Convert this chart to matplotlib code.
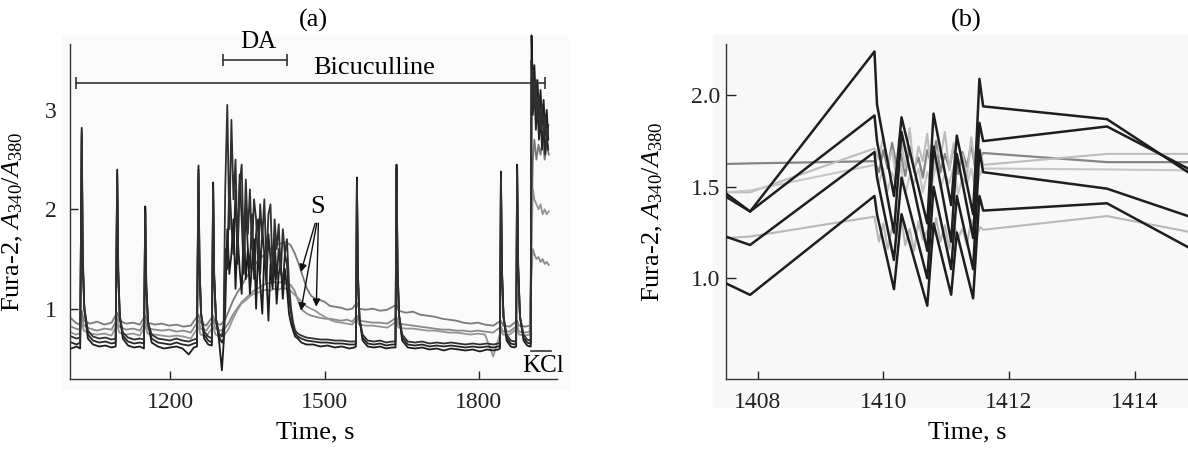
import matplotlib
matplotlib.use("Agg")
from matplotlib import pyplot as plt
from matplotlib.patches import Rectangle

# ---------------- panel (a): whole recording ----------------
# shared time grid of the dark (black) traces, s
t_black = [
    1008, 1018, 1025, 1028, 1030, 1033, 1040, 1050, 1062, 1074,
    1086, 1094, 1097, 1099, 1102, 1108, 1118, 1130, 1141, 1149,
    1151.5, 1153.5, 1157, 1164, 1176, 1188, 1200, 1212, 1224, 1236,
    1246, 1252, 1255, 1257, 1260, 1266, 1274, 1281, 1283.5, 1285.5,
    1289, 1295, 1300.5, 1304,
    1307, 1311, 1315, 1319, 1323, 1327, 1331, 1335, 1339, 1343,
    1347, 1351, 1355, 1359, 1363, 1367, 1371, 1375, 1379, 1383,
    1387, 1391, 1395, 1399, 1403, 1407, 1411, 1415, 1419, 1423,
    1427, 1431, 1435, 1439, 1443, 1448, 1455, 1465,
    1478, 1492, 1506, 1520, 1534, 1548, 1558, 1561, 1563, 1565,
    1568, 1574, 1584, 1596, 1608, 1620, 1631, 1638, 1640, 1642,
    1645, 1651, 1662, 1676, 1690, 1704, 1718, 1732, 1746, 1760,
    1774, 1788, 1802, 1816, 1828, 1838, 1841, 1843, 1845, 1848,
    1854, 1862, 1869, 1872.5, 1874.5, 1876.5, 1880, 1887, 1894, 1899,
    1901, 1902.5, 1905, 1908, 1911, 1914, 1917, 1920, 1923, 1926,
    1929, 1932, 1935,
]
b1 = [
    0.60, 0.62, 0.60, 2.82, 1.55, 1.00, 0.70, 0.64, 0.62, 0.63,
    0.61, 0.62, 2.40, 1.40, 0.92, 0.70, 0.63, 0.61, 0.62, 0.60,
    2.03, 1.25, 0.85, 0.66, 0.62, 0.60, 0.61, 0.62, 0.60, 0.54,
    0.61, 0.62, 2.44, 1.45, 0.95, 0.70, 0.64, 0.63, 2.27, 1.35,
    0.90, 0.68, 0.38, 0.66,
    1.00, 1.80, 1.35, 1.55, 1.90, 1.20, 1.75, 1.40, 1.15, 1.85,
    1.30, 1.60, 1.15, 1.45, 1.70, 1.00, 1.60, 1.25, 0.95, 1.55,
    1.35, 0.88, 1.45, 1.20, 1.50, 1.05, 1.35, 1.45, 1.10, 1.40,
    1.20, 0.95, 0.85, 0.78, 0.72, 0.70, 0.66, 0.64,
    0.64, 0.62, 0.63, 0.61, 0.62, 0.60, 0.61, 0.62, 2.32, 1.35,
    0.90, 0.68, 0.62, 0.61, 0.62, 0.60, 0.61, 0.61, 2.45, 1.42,
    0.93, 0.68, 0.61, 0.60, 0.61, 0.59, 0.60, 0.58, 0.60, 0.59,
    0.58, 0.59, 0.57, 0.59, 0.58, 0.59, 0.60, 2.38, 1.40, 0.92,
    0.68, 0.62, 0.61, 0.62, 2.45, 1.45, 0.92, 0.68, 0.63, 0.62,
    0.62, 3.75, 3.25, 3.45, 3.05, 3.30, 2.95, 3.20, 2.85, 3.10,
    2.75, 3.00, 2.70,
]
b2 = [
    0.66, 0.64, 0.66, 2.78, 1.50, 1.02, 0.74, 0.68, 0.66, 0.67,
    0.65, 0.66, 2.36, 1.38, 0.93, 0.73, 0.67, 0.65, 0.66, 0.65,
    1.99, 1.22, 0.86, 0.70, 0.66, 0.65, 0.64, 0.66, 0.64, 0.63,
    0.65, 0.66, 2.40, 1.42, 0.95, 0.74, 0.68, 0.66, 2.23, 1.32,
    0.90, 0.72, 0.66, 0.70,
    1.60, 1.40, 2.30, 1.85, 1.55, 2.20, 1.45, 2.35, 1.90, 1.35,
    2.05, 1.60, 1.40, 1.95, 1.30, 1.75, 1.90, 1.35, 1.80, 1.55,
    1.25, 1.75, 1.50, 1.25, 1.70, 1.30, 1.60, 1.40, 1.25, 1.55,
    1.45, 1.10, 0.95, 0.82, 0.75, 0.72, 0.70, 0.68,
    0.67, 0.66, 0.66, 0.65, 0.65, 0.64, 0.64, 0.65, 2.28, 1.33,
    0.90, 0.71, 0.65, 0.64, 0.65, 0.63, 0.64, 0.64, 2.41, 1.40,
    0.93, 0.71, 0.64, 0.63, 0.64, 0.62, 0.63, 0.62, 0.63, 0.62,
    0.61, 0.62, 0.61, 0.62, 0.61, 0.62, 0.63, 2.34, 1.38, 0.92,
    0.71, 0.65, 0.64, 0.65, 2.41, 1.42, 0.92, 0.71, 0.66, 0.65,
    0.66, 3.50, 2.95, 3.20, 2.80, 3.05, 2.70, 2.95, 2.60, 2.85,
    2.55, 2.75, 2.60,
]
b3 = [
    0.72, 0.70, 0.71, 2.74, 1.45, 1.00, 0.78, 0.72, 0.70, 0.71,
    0.69, 0.70, 2.32, 1.30, 0.92, 0.76, 0.71, 0.69, 0.70, 0.69,
    1.95, 1.18, 0.86, 0.74, 0.70, 0.69, 0.68, 0.70, 0.68, 0.67,
    0.69, 0.70, 2.36, 1.40, 0.95, 0.77, 0.72, 0.70, 2.19, 1.30,
    0.90, 0.75, 0.72, 0.85,
    2.20, 3.05, 1.80, 2.90, 2.10, 2.50, 1.60, 2.25, 2.45, 1.55,
    2.30, 1.75, 2.20, 1.60, 2.10, 1.90, 1.45, 2.05, 1.70, 2.10,
    1.45, 1.95, 2.05, 1.35, 1.90, 1.60, 1.85, 1.35, 1.80, 1.55,
    1.70, 1.25, 1.00, 0.86, 0.78, 0.75, 0.73, 0.71,
    0.70, 0.69, 0.69, 0.68, 0.68, 0.67, 0.67, 0.68, 2.24, 1.30,
    0.90, 0.74, 0.68, 0.67, 0.68, 0.66, 0.67, 0.67, 2.37, 1.38,
    0.93, 0.74, 0.67, 0.66, 0.67, 0.65, 0.66, 0.65, 0.66, 0.65,
    0.64, 0.65, 0.64, 0.65, 0.64, 0.65, 0.66, 2.30, 1.35, 0.92,
    0.74, 0.68, 0.67, 0.68, 2.37, 1.40, 0.92, 0.74, 0.69, 0.68,
    0.70, 3.30, 3.40, 3.05, 3.30, 2.90, 3.15, 2.80, 3.05, 2.75,
    2.95, 2.65, 2.85,
]

# shared time grid of the grey "S" traces, s
t_grey = [
    1008, 1016, 1024, 1028, 1032, 1044, 1058, 1072, 1086, 1097,
    1101, 1114, 1128, 1141, 1151.5, 1156, 1170, 1184, 1198, 1212,
    1226, 1240, 1255, 1259, 1270, 1283.5, 1288, 1298, 1306, 1314,
    1322, 1330, 1338, 1346, 1354, 1362, 1370, 1378, 1386, 1394,
    1402, 1410, 1418, 1426, 1434, 1442, 1450, 1458, 1466, 1474,
    1482, 1490, 1500, 1510, 1520, 1532, 1544, 1554, 1563, 1567,
    1580, 1594, 1608, 1622, 1640, 1644, 1658, 1672, 1686, 1700,
    1714, 1728, 1742, 1756, 1770, 1784, 1798, 1812, 1828, 1843,
    1847, 1860, 1874.5, 1878, 1890, 1899, 1902, 1905, 1908, 1912,
    1916, 1920, 1924, 1928, 1932, 1936,
]
s1 = [
    0.90, 0.86, 0.84, 0.98, 0.88, 0.85, 0.87, 0.84, 0.86, 0.96,
    0.88, 0.85, 0.86, 0.84, 0.93, 0.86, 0.84, 0.85, 0.83, 0.84,
    0.82, 0.83, 0.94, 0.86, 0.83, 0.93, 0.85, 0.84, 0.88, 0.98,
    1.08, 1.16, 1.22, 1.30, 1.36, 1.42, 1.48, 1.52, 1.56, 1.60,
    1.63, 1.65, 1.66, 1.67, 1.64, 1.56, 1.45, 1.32, 1.20, 1.13,
    1.10, 1.09, 1.07, 1.03, 1.02, 1.01, 0.99, 1.00, 1.06, 1.00,
    0.99, 1.00, 0.98, 0.99, 1.04, 0.98, 0.96, 0.97, 0.94, 0.93,
    0.92, 0.90, 0.89, 0.88, 0.86, 0.85, 0.86, 0.84, 0.83, 0.88,
    0.83, 0.82, 0.88, 0.83, 0.82, 0.83, 1.60, 2.50, 2.70, 2.50,
    2.65, 2.55, 2.70, 2.50, 2.65, 2.55,
]
s2 = [
    0.82, 0.80, 0.79, 0.92, 0.83, 0.80, 0.78, 0.80, 0.79, 0.90,
    0.82, 0.79, 0.80, 0.78, 0.88, 0.80, 0.79, 0.78, 0.79, 0.77,
    0.78, 0.76, 0.88, 0.80, 0.78, 0.88, 0.80, 0.78, 0.80, 0.86,
    0.94, 1.00, 1.06, 1.10, 1.14, 1.18, 1.20, 1.23, 1.25, 1.26,
    1.27, 1.26, 1.27, 1.25, 1.24, 1.18, 1.06, 0.98, 0.95, 0.93,
    0.92, 0.91, 0.90, 0.90, 0.89, 0.88, 0.89, 0.87, 0.93, 0.88,
    0.87, 0.86, 0.86, 0.85, 0.91, 0.85, 0.84, 0.83, 0.82, 0.81,
    0.80, 0.79, 0.79, 0.78, 0.78, 0.77, 0.78, 0.77, 0.76, 0.82,
    0.77, 0.77, 0.83, 0.77, 0.76, 0.77, 1.30, 1.60, 1.55, 1.50,
    1.52, 1.47, 1.50, 1.45, 1.47, 1.44,
]
s3 = [
    0.76, 0.74, 0.75, 0.86, 0.78, 0.75, 0.74, 0.75, 0.73, 0.84,
    0.76, 0.74, 0.75, 0.73, 0.83, 0.75, 0.74, 0.73, 0.72, 0.73,
    0.72, 0.70, 0.82, 0.74, 0.72, 0.82, 0.74, 0.72, 0.74, 0.80,
    0.90, 0.98, 1.05, 1.08, 1.12, 1.15, 1.16, 1.18, 1.19, 1.18,
    1.20, 1.19, 1.21, 1.20, 1.18, 1.14, 1.10, 1.06, 1.02, 1.00,
    0.98, 0.95, 0.92, 0.89, 0.87, 0.86, 0.85, 0.84, 0.90, 0.84,
    0.83, 0.83, 0.82, 0.81, 0.87, 0.81, 0.80, 0.80, 0.79, 0.78,
    0.78, 0.77, 0.76, 0.76, 0.75, 0.74, 0.75, 0.74, 0.52, 0.78,
    0.74, 0.74, 0.80, 0.74, 0.73, 0.74, 1.50, 2.20, 2.10, 2.05,
    2.00, 2.05, 1.95, 2.00, 1.95, 1.98,
]

# application bars (start, end, level) and labels
bic_bar = (1016.5, 1929, 3.27)
da_bar = (1302, 1427.5, 3.50)
kcl_bar = (1901, 1940, 0.577)
s_arrow_heads = [(1454, 1.37), (1454, 0.98), (1484, 1.02)]
s_arrow_tails = [(1482, 1.86), (1485, 1.86), (1488, 1.86)]

# ---------------- panel (b): zoom around 1410 s ----------------
t_zoom_black = [1407.49, 1407.88, 1409.86, 1409.90, 1410.17, 1410.29, 1410.70, 1410.80,
                1411.08, 1411.17, 1411.43, 1411.53, 1411.59, 1413.56, 1414.85]
z1 = [1.447, 1.365, 2.24, 1.95, 1.45, 1.88, 1.30, 1.90, 1.40, 1.78, 1.35, 2.09, 1.94, 1.87, 1.58]
z2 = [1.465, 1.365, 1.89, 1.75, 1.25, 1.80, 1.15, 1.72, 1.20, 1.68, 1.22, 1.85, 1.75, 1.83, 1.60]
z3 = [1.228, 1.182, 1.69, 1.55, 1.10, 1.55, 1.00, 1.50, 1.05, 1.45, 1.05, 1.70, 1.58, 1.49, 1.34]
z4 = [0.973, 0.909, 1.45, 1.35, 0.94, 1.35, 0.85, 1.30, 0.91, 1.25, 0.89, 1.45, 1.37, 1.41, 1.17]

t_zoom_grey = [1407.49, 1407.88, 1409.86,
               1409.93, 1410.00, 1410.07, 1410.14, 1410.21, 1410.28, 1410.35, 1410.42,
               1410.49, 1410.56, 1410.63, 1410.70, 1410.77, 1410.84, 1410.91, 1410.98,
               1411.05, 1411.12, 1411.19, 1411.26, 1411.33, 1411.40, 1411.47, 1411.54,
               1411.59, 1413.56, 1414.85]
g1 = [1.625, 1.628, 1.64,
      1.58, 1.70, 1.60, 1.74, 1.62, 1.68, 1.56, 1.72, 1.60, 1.66, 1.55, 1.70,
      1.62, 1.75, 1.58, 1.68, 1.60, 1.72, 1.57, 1.69, 1.61, 1.73, 1.59, 1.66,
      1.685, 1.635, 1.635]
g2 = [1.47, 1.47, 1.71,
      1.65, 1.78, 1.62, 1.70, 1.55, 1.76, 1.60, 1.82, 1.58, 1.72, 1.64, 1.79,
      1.56, 1.70, 1.66, 1.80, 1.59, 1.74, 1.62, 1.68, 1.55, 1.77, 1.60, 1.71,
      1.62, 1.68, 1.68]
g3 = [1.47, 1.48, 1.62,
      1.52, 1.60, 1.48, 1.58, 1.50, 1.62, 1.46, 1.56, 1.52, 1.60, 1.47, 1.58,
      1.50, 1.63, 1.49, 1.57, 1.52, 1.61, 1.46, 1.55, 1.51, 1.60, 1.48, 1.57,
      1.60, 1.595, 1.59]
g4 = [1.22, 1.228, 1.337,
      1.20, 1.30, 1.16, 1.28, 1.22, 1.34, 1.18, 1.27, 1.15, 1.31, 1.21, 1.26,
      1.17, 1.33, 1.20, 1.29, 1.16, 1.30, 1.22, 1.27, 1.18, 1.32, 1.21, 1.28,
      1.265, 1.34, 1.255]

plt.rcParams.update({
    "font.family": ["Liberation Serif", "DejaVu Serif"],
    "mathtext.fontset": "custom",
    "mathtext.rm": "Liberation Serif",
    "mathtext.it": "Liberation Serif:italic",
    "axes.linewidth": 1.0,
    "axes.edgecolor": "#333333",
})

TICK_FS = 17
LABEL_FS = 19
W, H = 1188, 449

fig = plt.figure(figsize=(W / 100, H / 100), dpi=100)

# faint scan-like background areas
fig.add_artist(Rectangle((62 / W, 1 - 388 / H), (568 - 62) / W, (388 - 36) / H,
                         transform=fig.transFigure, color="#fafafa", zorder=0))
fig.add_artist(Rectangle((713 / W, 1 - 407 / H), (W - 713) / W, (407 - 35) / H,
                         transform=fig.transFigure, color="#f8f8f8", zorder=0))

ax1 = fig.add_axes([70.4 / W, 1 - 379 / H, (557 - 70.4) / W, (379 - 44) / H])
ax2 = fig.add_axes([725.6 / W, 1 - 379 / H, (W - 725.6) / W, (379 - 44) / H])

for ax in (ax1, ax2):
    ax.patch.set_visible(False)
    ax.spines["top"].set_visible(False)
    ax.spines["right"].set_visible(False)
    ax.tick_params(direction="in", length=6, width=1.0, labelsize=TICK_FS, colors="#222222")
    ax.tick_params(axis="x", pad=9)

# ---- panel (a)
grey_cols = ["#7a7a7a", "#8a8a8a", "#959595"]
for vals, c in zip([s1, s2, s3], grey_cols):
    ax1.plot(t_grey, vals, color=c, lw=1.3, zorder=2, clip_on=False)
for vals, c in zip([b1, b2, b3], ["#1c1c1c", "#262626", "#303030"]):
    ax1.plot(t_black, vals, color=c, lw=1.3, zorder=3, clip_on=False)

ax1.set_xlim(1006, 1952)
ax1.set_ylim(0.293, 3.663)
ax1.set_xticks([1200, 1500, 1800])
ax1.set_yticks([1, 2, 3])
ax1.tick_params(axis="y", pad=10)
ax1.yaxis.get_major_ticks()[2].tick1line.set_visible(False)

bar_kw = dict(color="#333333", lw=1.2, marker="|", markersize=9, markeredgewidth=1.2,
              clip_on=False, zorder=4)
ax1.plot(bic_bar[:2], [bic_bar[2]] * 2, **bar_kw)
ax1.plot(da_bar[:2], [da_bar[2]] * 2, **bar_kw)
ax1.plot(kcl_bar[:2], [kcl_bar[2]] * 2, color="#333333", lw=1.2, clip_on=False, zorder=4)
ax1.text(1597, 3.42, "Bicuculline", ha="center", va="center", fontsize=LABEL_FS)
ax1.text(1371, 3.68, "DA", ha="center", va="center", fontsize=LABEL_FS - 1)
ax1.text(1925, 0.42, "KCl", ha="center", va="center", fontsize=LABEL_FS - 1)
ax1.text(1487, 2.02, "S", ha="center", va="center", fontsize=LABEL_FS)
for head, tail in zip(s_arrow_heads, s_arrow_tails):
    ax1.annotate("", xy=head, xytext=tail,
                 arrowprops=dict(arrowstyle="-|>", color="#111111", lw=1.0,
                                 mutation_scale=11, shrinkA=0, shrinkB=0), zorder=5)

ax1.set_ylabel(r"Fura-2, $A_{340}/A_{380}$", fontsize=LABEL_FS)
ax1.yaxis.set_label_coords((25 - 70.4) / (557 - 70.4), 0.47)

# ---- panel (b)
for vals, c, lw in zip([g1, g2, g3, g4], ["#858585", "#bdbdbd", "#c6c6c6", "#b8b8b8"],
                       [1.6, 1.5, 1.5, 1.5]):
    ax2.plot(t_zoom_grey, vals, color=c, lw=lw, zorder=2)
for vals in (z1, z2, z3, z4):
    ax2.plot(t_zoom_black, vals, color="#1e1e1e", lw=1.8, zorder=3)

ax2.set_xlim(1407.49, 1414.85)
ax2.set_ylim(0.449, 2.281)
ax2.set_xticks([1408, 1410, 1412, 1414])
ax2.set_yticks([1.0, 1.5, 2.0])
ax2.set_yticklabels(["1.0", "1.5", "2.0"])
ax2.tick_params(axis="y", pad=4, length=7)
ax2.set_ylabel(r"Fura-2, $A_{340}/A_{380}$", fontsize=LABEL_FS)
ax2.yaxis.set_label_coords((665 - 725.6) / (W - 725.6), 0.5)

# titles and x labels placed in figure pixels
fig.text(313 / W, 1 - 20 / H, "(a)", ha="center", va="center", fontsize=LABEL_FS)
fig.text(966 / W, 1 - 20 / H, "(b)", ha="center", va="center", fontsize=LABEL_FS)
fig.text(315 / W, 1 - 432 / H, "Time, s", ha="center", va="center", fontsize=LABEL_FS)
fig.text(967 / W, 1 - 432 / H, "Time, s", ha="center", va="center", fontsize=LABEL_FS)

fig.savefig("out.png", dpi=100)
